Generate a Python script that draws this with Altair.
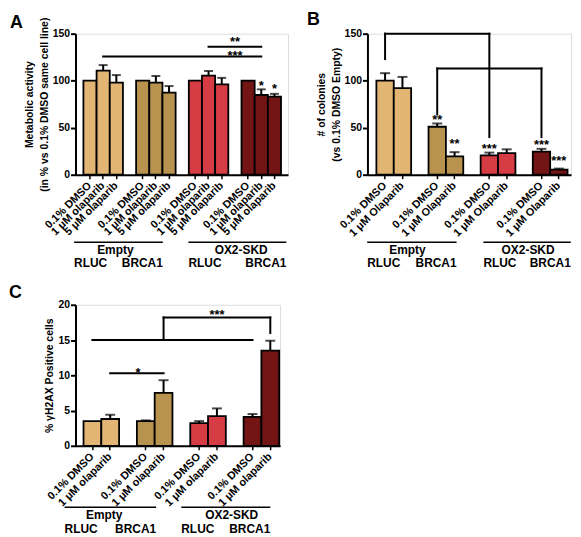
import altair as alt
import pandas as pd

FONT = "Liberation Sans"
GROUPS = ["RLUC Empty", "BRCA1 Empty", "RLUC OX2-SKD", "BRCA1 OX2-SKD"]
COLORS = ["#E3B574", "#B8924F", "#D63C44", "#731515"]

# ---------- Panel A: metabolic activity ----------
A_TREAT = ["0.1% DMSO", "1 μM olaparib", "5 μM olaparib"]
A_MEAN = [[100, 110.6, 98], [100, 98, 87.3], [100, 105.3, 96], [100, 84.8, 83]]
A_SEM = [[0, 6, 8], [0, 7, 7], [0, 5, 7], [0, 6, 3]]
A_YTICKS = [0, 50, 100, 150]
A_YTITLE = ["Metabolic activity", "(in % vs 0.1% DMSO same cell line)"]

# ---------- Panel B: colonies ----------
B_TREAT = ["0.1% DMSO", "1 μM Olaparib"]
B_MEAN = [[100, 92], [51, 19.5], [20.5, 23], [24.5, 5.5]]
B_SEM = [[8, 12], [3.5, 4.5], [3, 4], [3, 1]]
B_YTICKS = [0, 50, 100, 150]
B_YTITLE = ["# of colonies", "(vs 0.1% DMSO Empty)"]

# ---------- Panel C: gamma-H2AX ----------
C_TREAT = ["0.1% DMSO", "1 μM olaparib"]
C_MEAN = [[3.5, 3.8], [3.5, 7.5], [3.2, 4.2], [4.1, 13.5]]
C_SEM = [[0, 0.6], [0.1, 1.8], [0.3, 1.1], [0.4, 1.4]]
C_YTICKS = [0, 5, 10, 15, 20]
C_YTITLE = "% γH2AX Positive cells"

# significance annotations: bar refs (group, treatment) or gap slot, values in data units
A_HLINES = [((0, 1), (3, 1), 125.7), ((2, 1), (3, 1), 136)]
A_VLINES = []
A_STARS = [("**", "gap3", 144, 0), ("***", "gap3", 129.5, 0), ("*", (3, 1), 98, 0), ("*", (3, 2), 94, 0)]

B_HLINES = [((0, 0), (2, 0), 150), ((1, 0), (3, 0), 113)]
B_VLINES = [((0, 0), 150, 123), ((2, 0), 150, 40), ((1, 0), 113, 64), ((3, 0), 113, 40)]
B_STARS = [("**", (1, 0), 61, 0), ("**", (1, 1), 36, 0), ("***", (2, 0), 30, 0),
           ("***", (3, 0), 35, 0), ("***", (3, 1), 18, 0)]

C_HLINES = [((0, 0), (3, 0), 15), ((1, 1), (3, 1), 18.2), ((0, 1), (1, 1), 10.3)]
C_VLINES = [((1, 1), 15, 18.2), ((3, 1), 18.2, 16)]
C_STARS = [("***", (2, 1), 18.9, 0), ("*", "gap1", 10.8, 10)]

CELL = ["RLUC", "BRCA1"]
VECTOR = ["Empty", "OX2-SKD"]


def ids_for(treats):
    out = []
    for g in range(4):
        out += [f"{g + 1}|{t}" for t in treats]
        if g < 3:
            out.append(f"gap{g + 1}")
    return out


def ref(treats, r):
    if isinstance(r, str):
        return r
    g, t = r
    return f"{g + 1}|{treats[t]}"


def panel(letter, letter_dx, letter_off, treats, means, sems, width, height, pad_outer, band_align,
          ydomain, yticks, ytitle, cap, hlines, vlines, stars, glines, gnames, gdy):
    dom = ids_for(treats)
    real = [d for d in dom if not d.startswith("gap")]
    xscale = alt.Scale(domain=dom, paddingInner=0, paddingOuter=pad_outer, align=band_align)
    xaxis = alt.Axis(title=None, values=real, labelExpr="split(datum.value, '|')[1]",
                     labelAngle=315, labelAlign="right", labelBaseline="middle",
                     labelOverlap=False, labelPadding=5, labelFontSize=11, labelFont=FONT,
                     labelFontWeight="bold", labelColor="black", tickSize=4, tickWidth=1.5,
                     tickColor="black", domainColor="black", domainWidth=2)
    yscale = alt.Scale(domain=ydomain, nice=False, zero=True)
    yaxis = alt.Axis(title=ytitle, values=yticks, labelFontSize=10.5, labelFont=FONT,
                     labelFontWeight="bold", labelColor="black", labelPadding=1,
                     tickSize=5, tickWidth=2, tickColor="black", domainColor="black",
                     domainWidth=2, titleFont=FONT, titleFontSize=10.5, titleFontWeight="bold",
                     titleColor="black", titlePadding=3, titleLineHeight=15, grid=False)

    def X(f):
        return alt.X(f, scale=xscale, axis=xaxis)

    def Y(f):
        return alt.Y(f, scale=yscale, axis=yaxis)

    rows = []
    for g in range(4):
        for t, tr in enumerate(treats):
            rows.append({"id": f"{g + 1}|{tr}", "group": GROUPS[g], "mean": means[g][t],
                         "sem": sems[g][t], "top": means[g][t] + sems[g][t]})
    df = pd.DataFrame(rows)

    layers = []
    layers.append(alt.Chart(df).mark_bar(stroke="black", strokeWidth=1.8).encode(
        x=X("id:N"), y=Y("mean:Q"),
        color=alt.Color("group:N", scale=alt.Scale(domain=GROUPS, range=COLORS), legend=None)))
    layers.append(alt.Chart(df).transform_filter("datum.sem > 0").mark_rule(
        color="black", strokeWidth=2).encode(x=X("id:N"), y=Y("mean:Q"), y2="top:Q"))
    layers.append(alt.Chart(df).transform_filter("datum.sem > 0").mark_tick(
        color="black", thickness=2, size=cap).encode(x=X("id:N"), y=Y("top:Q")))

    if hlines:
        hl = pd.DataFrame([{"a": ref(treats, s), "b": ref(treats, e), "v": v} for s, e, v in hlines])
        layers.append(alt.Chart(hl).mark_rule(color="black", strokeWidth=2, strokeCap="square").encode(
            x=X("a:N"), x2="b:N", y=Y("v:Q")))
    if vlines:
        vl = pd.DataFrame([{"a": ref(treats, s), "v1": v1, "v2": v2} for s, v1, v2 in vlines])
        layers.append(alt.Chart(vl).mark_rule(color="black", strokeWidth=2, strokeCap="square").encode(
            x=X("a:N"), y=Y("v1:Q"), y2="v2:Q"))
    for s, r, v, dx in stars:
        sd = pd.DataFrame([{"a": ref(treats, r), "v": v, "s": s}])
        layers.append(alt.Chart(sd).mark_text(
            font=FONT, fontSize=13, fontWeight="bold", color="black", baseline="alphabetic",
            dx=dx, dy=7).encode(x=X("a:N"), y=Y("v:Q"), text="s:N"))

    # group annotations under the x axis
    for k, (s, e, o1, o2) in enumerate(glines):
        ld = pd.DataFrame([{"a": ref(treats, s), "b": ref(treats, e)}])
        layers.append(alt.Chart(ld).mark_rule(color="black", strokeWidth=1.5,
                                               xOffset=o1, x2Offset=o2).encode(
            x=X("a:N"), x2="b:N", y=alt.value(height + gdy[0])))
        t1 = pd.DataFrame([{"a": ref(treats, s), "t": CELL[0]}])
        layers.append(alt.Chart(t1).mark_text(font=FONT, fontSize=12, fontWeight="bold",
                                              color="black", align="left", baseline="middle",
                                              dx=o1).encode(
            x=X("a:N"), y=alt.value(height + gdy[2]), text="t:N"))
        t2 = pd.DataFrame([{"a": ref(treats, e), "t": CELL[1]}])
        layers.append(alt.Chart(t2).mark_text(font=FONT, fontSize=12, fontWeight="bold",
                                              color="black", align="right", baseline="middle",
                                              dx=o2).encode(
            x=X("a:N"), y=alt.value(height + gdy[2]), text="t:N"))
    for k, (r, dx) in enumerate(gnames):
        nd = pd.DataFrame([{"a": ref(treats, r), "t": VECTOR[k]}])
        layers.append(alt.Chart(nd).mark_text(font=FONT, fontSize=12, fontWeight="bold",
                                              color="black", align="center", baseline="middle",
                                              dx=dx).encode(
            x=X("a:N"), y=alt.value(height + gdy[1]), text="t:N"))

    return alt.layer(*layers).properties(
        width=width, height=height,
        title=alt.TitleParams(letter, anchor="start", frame="group", dx=letter_dx, fontSize=18,
                              font=FONT, fontWeight="bold", color="black", offset=letter_off))


A = panel("A", -66, -15, A_TREAT, A_MEAN, A_SEM, 214, 142, 0.565, 0.53, [0, 150], A_YTICKS, A_YTITLE, 9,
          A_HLINES, A_VLINES, A_STARS,
          [((0, 0), (1, 1), -16, 7), ((2, 0), (3, 2), -7, 12)],
          [((0, 2), -1), ((3, 0), -7)], (68, 76, 89))

B = panel("B", -61, 0, B_TREAT, B_MEAN, B_SEM, 205, 142, 0.357, 0.72, [0, 150], B_YTICKS, B_YTITLE, 10,
          B_HLINES, B_VLINES, B_STARS,
          [((0, 0), (1, 1), -18, 2), ((2, 0), (3, 1), -6, 12)],
          [((0, 1), 5), ("gap3", 4)], (68, 76, 89))

C = panel("C", -67, -2, C_TREAT, C_MEAN, C_SEM, 206, 142, 0.25, 0.9, [0, 20], C_YTICKS, C_YTITLE, 10,
          C_HLINES, C_VLINES, C_STARS,
          [((0, 0), (1, 1), -28, -7.5), ((2, 0), (3, 1), -18, 0)],
          [((0, 1), -6), ("gap3", -3)], (62, 70, 84))

top = alt.hconcat(A, B, spacing=17)
chart = alt.vconcat(top, C, spacing=13).properties(
    padding={"left": 0, "top": 0, "right": 0, "bottom": 0}
).configure_view(stroke=None).configure(font=FONT)

chart.save("out.html", embed_options={"renderer": "svg", "actions": False})
